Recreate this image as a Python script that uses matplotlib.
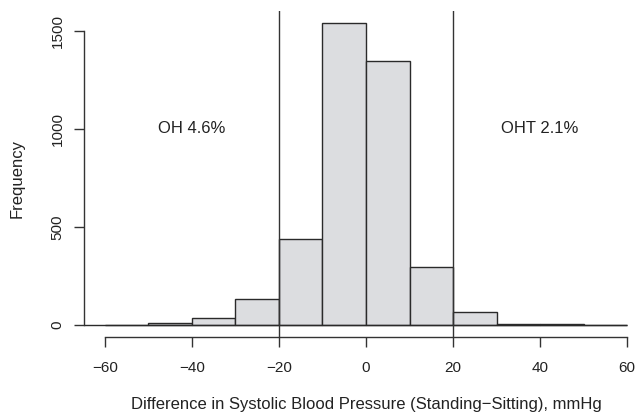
import matplotlib
matplotlib.use("Agg")
import matplotlib.pyplot as plt

plt.rcParams['font.family'] = ['Liberation Sans', 'DejaVu Sans']

# histogram of standing - sitting SBP difference
bin_edges = [-60, -50, -40, -30, -20, -10, 0, 10, 20, 30, 40, 50, 60]
counts = [2, 10, 34, 132, 437, 1540, 1345, 295, 68, 4, 6, 2]
cutoffs = [-20, 20]
labels = [(-40, 1000, "OH 4.6%"), (40, 1000, "OHT 2.1%")]
x_ticks = [-60, -40, -20, 0, 20, 40, 60]
y_ticks = [0, 500, 1000, 1500]

ink = "#222222"
fig = plt.figure(figsize=(6.36, 4.18), dpi=100)
ax = fig.add_axes([0.1321, 0.1938, 0.8868, 0.780])

widths = [b - a for a, b in zip(bin_edges[:-1], bin_edges[1:])]
ax.bar(bin_edges[:-1], counts, width=widths, align='edge',
       color="#dcdde0", edgecolor="#2a2a2a", linewidth=1.0, zorder=2)
ax.hlines(0, -64.8, bin_edges[-1], color="#2a2a2a", linewidth=1.0, zorder=3)
for c in cutoffs:
    ax.axvline(c, color="#333333", linewidth=1.0, zorder=4)
for x, y, t in labels:
    ax.text(x, y, t, ha='center', va='center', fontsize=12, color=ink)

ax.set_xlim(-64.8, 64.8)
ax.set_ylim(-61.6, 1601.6)
for s in ['top', 'right']:
    ax.spines[s].set_visible(False)
ax.spines['bottom'].set_bounds(-60, 60)
ax.spines['left'].set_bounds(0, 1500)
for s in ['bottom', 'left']:
    ax.spines[s].set_color("#333333")
    ax.spines[s].set_linewidth(1.0)

ax.set_xticks(x_ticks)
ax.set_yticks(y_ticks)
ax.tick_params(direction='out', length=7, width=1.0, color="#333333",
               labelsize=11, labelcolor=ink)
ax.tick_params(axis='x', pad=10)
ax.tick_params(axis='y', pad=7)
for lab in ax.get_yticklabels():
    lab.set_rotation(90)
    lab.set_va('center')

fig.text(366 / 636, 1 - 405 / 418,
         "Difference in Systolic Blood Pressure (Standing\u2212Sitting), mmHg",
         ha='center', va='center', fontsize=12, color=ink)
fig.text(17 / 636, 1 - 178 / 418, "Frequency", rotation=90,
         ha='center', va='center', fontsize=12, color=ink)

plt.savefig("out.png", dpi=100)
